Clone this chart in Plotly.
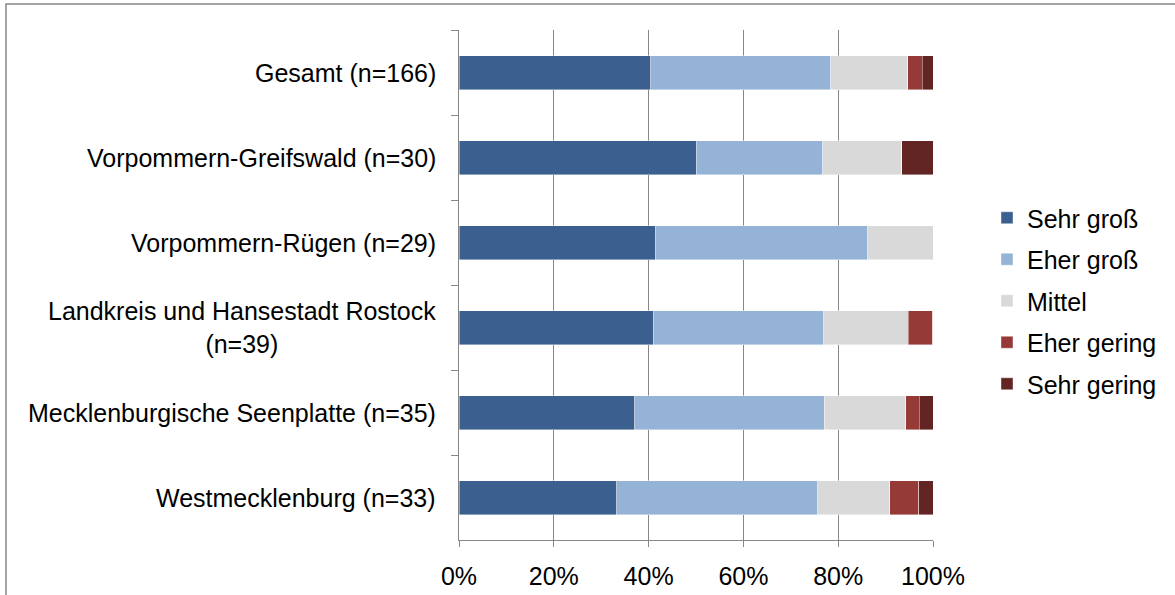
import plotly.graph_objects as go

categories = [
    "Gesamt (n=166)",
    "Vorpommern-Greifswald (n=30)",
    "Vorpommern-Rügen (n=29)",
    "Landkreis und Hansestadt Rostock<br>(n=39)",
    "Mecklenburgische Seenplatte (n=35)",
    "Westmecklenburg (n=33)",
]
series_names = ["Sehr groß", "Eher groß", "Mittel", "Eher gering", "Sehr gering"]
sehr_gross = [40.4, 50.0, 41.4, 41.0, 37.1, 33.3]
eher_gross = [38.0, 26.7, 44.8, 35.9, 40.0, 42.4]
mittel = [16.3, 16.7, 13.8, 17.9, 17.1, 15.2]
eher_gering = [3.0, 0.0, 0.0, 5.1, 2.9, 6.1]
sehr_gering = [2.4, 6.7, 0.0, 0.0, 2.9, 3.0]
tick_vals = [0, 20, 40, 60, 80, 100]
tick_text = ["0%", "20%", "40%", "60%", "80%", "100%"]

colors = ["#3B5F8E", "#95B3D7", "#D9D9D9", "#963A38", "#632523"]
values = [sehr_gross, eher_gross, mittel, eher_gering, sehr_gering]

FONT = "Liberation Sans, Arial, sans-serif"
FS = 25
GRAY = "#878787"

fig = go.Figure()
for name, vals, col in zip(series_names, values, colors):
    fig.add_trace(go.Bar(
        x=vals, y=categories, name=name, orientation="h",
        marker=dict(color=col, line=dict(color="rgba(255,255,255,0.6)", width=0.7)),
        width=0.4, legendgroup=name,
    ))

W, H = 1175, 595
L, R, T, B = 459, 1175 - 933, 30, 595 - 540
pw, ph = W - L - R, H - T - B

annotations = [
    dict(text=c, x=-22 / pw, xref="paper", xanchor="right", y=c, yref="y",
         yanchor="middle", align="center", showarrow=False,
         font=dict(family=FONT, size=FS, color="#000000"), borderpad=0)
    for c in categories
]

fig.update_layout(
    width=W, height=H,
    margin=dict(l=L, r=R, t=T, b=B, autoexpand=False),
    barmode="stack",
    plot_bgcolor="white", paper_bgcolor="white",
    font=dict(family=FONT, size=FS, color="#000000"),
    showlegend=True,
    legend=dict(
        x=(987 - L) / pw, y=(540 - 195) / ph, xanchor="left", yanchor="top",
        traceorder="grouped", tracegroupgap=6,
        font=dict(family=FONT, size=FS, color="#000000"),
        itemwidth=30, bgcolor="rgba(0,0,0,0)",
    ),
    xaxis=dict(
        range=[0, 100], tickvals=tick_vals, ticktext=tick_text,
        showgrid=True, gridcolor=GRAY, gridwidth=1.3,
        showline=True, linecolor=GRAY, linewidth=1.3,
        ticks="outside", ticklen=6, tickcolor=GRAY, tickwidth=1.3,
        ticklabelstandoff=8, zeroline=False, automargin=False,
        tickfont=dict(family=FONT, size=FS, color="#000000"),
        fixedrange=True,
    ),
    yaxis=dict(
        categoryorder="array", categoryarray=categories, autorange="reversed",
        showgrid=False, showline=True, linecolor=GRAY, linewidth=1.3,
        ticks="outside", ticklen=7, tickcolor=GRAY, tickwidth=1.3,
        tickson="boundaries", showticklabels=False, automargin=False,
        fixedrange=True,
    ),
    annotations=annotations,
    shapes=[dict(
        type="rect", xref="paper", yref="paper",
        x0=(6 - L) / pw, x1=(1190 - L) / pw,
        y0=(540 - 610) / ph, y1=(540 - 4) / ph,
        line=dict(color=GRAY, width=1.5), fillcolor="rgba(0,0,0,0)", layer="below",
    )],
)

fig.write_html("out.html", config={"displayModeBar": False},
               post_script="document.body.style.margin='0';document.body.style.overflow='hidden';")
